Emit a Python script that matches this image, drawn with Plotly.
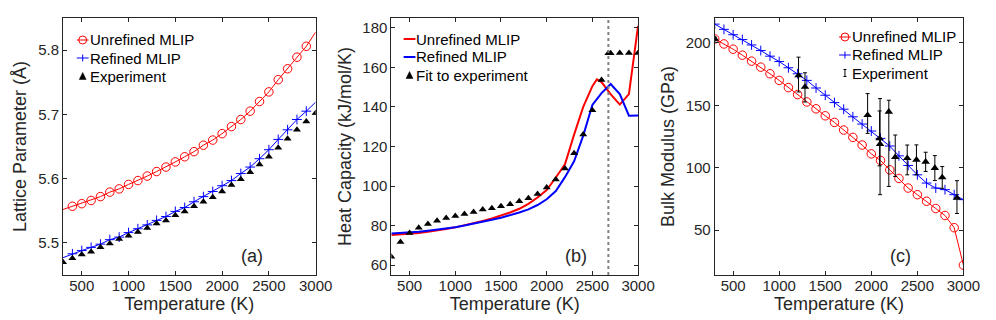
#!/usr/bin/env python3

#  Plotly Libraries
import plotly.graph_objects as go
from plotly.subplots import make_subplots

#  ---- panel (a) : lattice parameter ----
temps_a = [300, 400, 500, 600, 700, 800, 900, 1000, 1100, 1200, 1300, 1400, 1500, 1600,
           1700, 1800, 1900, 2000, 2100, 2200, 2300, 2400, 2500, 2600, 2700, 2800, 2900, 3000]

lattice_unrefined = [5.552, 5.557, 5.561, 5.566, 5.572, 5.579, 5.584, 5.591, 5.597, 5.604,
                     5.611, 5.618, 5.626, 5.634, 5.642, 5.652, 5.660, 5.670, 5.681, 5.692,
                     5.705, 5.720, 5.735, 5.754, 5.771, 5.789, 5.806, 5.828]
lattice_refined = [5.477, 5.483, 5.488, 5.493, 5.498, 5.505, 5.509, 5.516, 5.522, 5.528,
                   5.535, 5.541, 5.549, 5.555, 5.564, 5.572, 5.580, 5.589, 5.597, 5.608,
                   5.618, 5.631, 5.645, 5.661, 5.676, 5.692, 5.705, 5.719]
lattice_expt = [5.470, 5.476, 5.482, 5.486, 5.493, 5.499, 5.506, 5.511, 5.517, 5.523,
                5.530, 5.535, 5.543, 5.549, 5.557, 5.564, 5.571, 5.580, 5.590, 5.599,
                5.610, 5.622, 5.634, 5.648, 5.662, 5.676, 5.689, 5.702]

#  ---- panel (b) : heat capacity ----
temps_b_unref = [300, 400, 500, 600, 700, 800, 900, 1000, 1100, 1200, 1300, 1400, 1500, 1600,
                 1700, 1800, 1900, 2000, 2100, 2200, 2300, 2400, 2500, 2550, 2600, 2700, 2800,
                 2900, 3000]
cp_unrefined = [75.2, 75.5, 75.8, 76.3, 76.9, 77.5, 78.3, 79.1, 80.1, 81.1, 82.3, 83.6, 85.0,
                86.6, 88.5, 91.0, 94.2, 98.0, 104.3, 111.0, 126.0, 140.0, 150.5, 154.0, 152.6,
                146.5, 141.2, 146.5, 181.0]

temps_b_ref = [300, 400, 500, 600, 700, 800, 900, 1000, 1100, 1200, 1300, 1400, 1500, 1600,
               1700, 1800, 1900, 2000, 2100, 2200, 2300, 2400, 2500, 2600, 2700, 2800, 2900, 3000]
cp_refined = [76.0, 76.2, 76.5, 76.9, 77.4, 77.9, 78.5, 79.2, 80.0, 80.9, 81.9, 82.9, 84.0,
              85.2, 86.6, 88.2, 90.4, 93.3, 97.5, 104.5, 112.5, 125.5, 141.0, 147.0, 151.6,
              146.5, 135.6, 135.7]

temps_b_fit = [300, 400, 500, 600, 700, 800, 900, 1000, 1100, 1200, 1300, 1400, 1500, 1600,
               1700, 1800, 1900, 2000, 2100, 2200, 2300, 2400, 2500, 2600, 2675, 2700, 2800,
               2900, 3000]
cp_fit = [64.2, 71.7, 76.2, 78.9, 80.8, 82.4, 83.8, 84.9, 85.9, 86.9, 88.1, 88.8, 89.8, 90.8,
          92.3, 93.8, 96.0, 99.2, 103.3, 108.9, 116.6, 126.1, 138.3, 153.7, 167.2, 167.2,
          167.3, 167.3, 167.3]

melt_temp = 2675

#  ---- panel (c) : bulk modulus ----
temps_c = temps_a
bulk_unrefined = [203.2, 199.2, 195.0, 190.2, 185.4, 180.6, 175.3, 170.0, 164.2, 158.6,
                  152.7, 147.2, 141.6, 136.3, 130.2, 124.3, 118.2, 111.1, 105.8, 98.3,
                  91.4, 83.7, 78.4, 73.1, 67.3, 61.7, 51.9, 21.9]
bulk_refined = [215.1, 210.9, 206.6, 202.7, 198.4, 193.9, 189.4, 185.1, 180.1, 175.3,
                170.0, 163.9, 158.1, 152.2, 146.9, 140.8, 135.0, 129.4, 123.5, 117.4,
                109.5, 101.8, 94.3, 87.7, 83.7, 82.4, 78.4, 74.4]

temps_c_expt = [300, 1210, 1280, 1960, 2090, 2095, 2190, 2260, 2390, 2490, 2590, 2690, 2770, 2930]
bulk_expt = [203.2, 174.0, 164.7, 142.1, 123.5, 119.0, 144.8, 108.4, 107.6, 106.3, 104.7,
             99.7, 92.2, 75.8]
bulk_err_plus = [1.5, 14.6, 11.4, 17.3, 22.0, 36.4, 9.3, 17.8, 10.6, 12.0, 7.7, 10.0, 8.7, 13.8]
bulk_err_minus = [1.5, 13.3, 12.0, 14.6, 22.0, 40.6, 59.8, 15.4, 13.3, 12.0, 7.7, 10.0, 8.7, 12.5]

#  legend labels for each panel
legend_a = ['Unrefined MLIP', 'Refined MLIP', 'Experiment']
legend_b = ['Unrefined MLIP', 'Refined MLIP', 'Fit to experiment']
legend_c = ['Unrefined MLIP', 'Refined MLIP', 'Experiment']

W, H = 996, 320
FONT = 'Liberation Sans, Arial, Helvetica, sans-serif'
INK = '#262626'
RED = '#ff0000'
BLUE = '#0000ff'

#  pixel boxes of the three axes (left, right), shared top/bottom
x_boxes = [(56, 313), (390, 641), (719, 972)]
y_box = (10, 267)


def px_x(p):
    return p / W


def px_y(p):
    return 1 - p / H


fig = make_subplots(rows=1, cols=3)

#  ---------------- (a) ----------------
fig.add_trace(go.Scatter(x=temps_a, y=lattice_unrefined, mode='lines',
                         line=dict(color=RED, width=1), hoverinfo='skip'), row=1, col=1)
fig.add_trace(go.Scatter(x=temps_a[1:-1], y=lattice_unrefined[1:-1], mode='markers',
                         marker=dict(symbol='circle-open', size=8.5, color=RED,
                                     line=dict(width=1, color=RED)),
                         name=legend_a[0]), row=1, col=1)
fig.add_trace(go.Scatter(x=temps_a, y=lattice_refined, mode='lines',
                         line=dict(color=BLUE, width=1), hoverinfo='skip'), row=1, col=1)
fig.add_trace(go.Scatter(x=temps_a[1:-1], y=lattice_refined[1:-1], mode='markers',
                         marker=dict(symbol='cross-thin-open', size=7, color=BLUE,
                                     line=dict(width=1, color=BLUE)),
                         name=legend_a[1]), row=1, col=1)
fig.add_trace(go.Scatter(x=temps_a, y=lattice_expt, mode='markers',
                         marker=dict(symbol='triangle-up', size=7, color='black'),
                         name=legend_a[2]), row=1, col=1)

#  ---------------- (b) ----------------
fig.add_trace(go.Scatter(x=temps_b_unref, y=cp_unrefined, mode='lines',
                         line=dict(color=RED, width=2), name=legend_b[0]), row=1, col=2)
fig.add_trace(go.Scatter(x=temps_b_ref, y=cp_refined, mode='lines',
                         line=dict(color=BLUE, width=2), name=legend_b[1]), row=1, col=2)
fig.add_trace(go.Scatter(x=temps_b_fit, y=cp_fit, mode='markers',
                         marker=dict(symbol='triangle-up', size=7, color='black'),
                         name=legend_b[2]), row=1, col=2)
fig.add_vline(x=melt_temp, line=dict(color='#808080', width=2, dash='dot'), row=1, col=2)

#  ---------------- (c) ----------------
fig.add_trace(go.Scatter(x=temps_c, y=bulk_unrefined, mode='lines+markers',
                         line=dict(color=RED, width=1),
                         marker=dict(symbol='circle-open', size=8.5, color=RED,
                                     line=dict(width=1, color=RED)),
                         name=legend_c[0]), row=1, col=3)
fig.add_trace(go.Scatter(x=temps_c, y=bulk_refined, mode='lines+markers',
                         line=dict(color=BLUE, width=1),
                         marker=dict(symbol='cross-thin-open', size=7, color=BLUE,
                                     line=dict(width=1, color=BLUE)),
                         name=legend_c[1]), row=1, col=3)
fig.add_trace(go.Scatter(x=temps_c_expt, y=bulk_expt, mode='markers',
                         marker=dict(symbol='triangle-up', size=7.5, color='black'),
                         error_y=dict(type='data', array=bulk_err_plus,
                                      arrayminus=bulk_err_minus, color='black',
                                      thickness=1, width=2),
                         name=legend_c[2]), row=1, col=3)

#  ---------------- axes ----------------
axis_common = dict(showline=True, linecolor=INK, linewidth=1, mirror='ticks',
                   ticks='inside', ticklen=4, tickwidth=1, tickcolor=INK,
                   showgrid=False, zeroline=False,
                   tickfont=dict(family=FONT, size=15, color=INK),
                   title_font=dict(family=FONT, size=18, color=INK))

y_ranges = [[5.45, 5.85], [55, 185], [14, 220]]
y_ticks = [[5.5, 5.6, 5.7, 5.8], [60, 80, 100, 120, 140, 160, 180], [50, 100, 150, 200]]
y_titles = ['Lattice Parameter (Å)', 'Heat Capacity (kJ/mol/K)', 'Bulk Modulus (GPa)']
x_ticks = [500, 1000, 1500, 2000, 2500, 3000]

for i in range(3):
    xl, xr = x_boxes[i]
    fig.update_xaxes(axis_common, range=[300, 3000], tickvals=x_ticks,
                     domain=[px_x(xl), px_x(xr)], title_text='Temperature (K)',
                     title_standoff=2, ticklabelstandoff=-3, row=1, col=i + 1)
    fig.update_yaxes(axis_common, range=y_ranges[i], tickvals=y_ticks[i],
                     domain=[px_y(y_box[1]), px_y(y_box[0])], title_text=y_titles[i],
                     title_standoff=6, row=1, col=i + 1)

#  panel labels
for i, lab in enumerate(['(a)', '(b)', '(c)']):
    xa = 'x' if i == 0 else 'x%d' % (i + 1)
    ya = 'y' if i == 0 else 'y%d' % (i + 1)
    fig.add_annotation(text=lab, xref=xa + ' domain', yref=ya + ' domain',
                       x=0.747, y=0.074, xanchor='center', yanchor='middle',
                       showarrow=False,
                       font=dict(family=FONT, size=18, color=INK))


#  ---------------- legends (compact, MATLAB style) ----------------
def legend_glyph(cx, cy, kind):
    half = 6
    if kind in ('circle', 'plus', 'line_red', 'line_blue'):
        col = RED if kind in ('circle', 'line_red') else BLUE
        fig.add_shape(type='line', xref='paper', yref='paper',
                      x0=px_x(cx - half), x1=px_x(cx + half), y0=px_y(cy), y1=px_y(cy),
                      line=dict(color=col, width=2 if kind.startswith('line') else 1))
    if kind == 'circle':
        r = 4
        fig.add_shape(type='circle', xref='paper', yref='paper',
                      x0=px_x(cx - r), x1=px_x(cx + r), y0=px_y(cy + r), y1=px_y(cy - r),
                      line=dict(color=RED, width=1))
    elif kind == 'plus':
        r = 3.5
        fig.add_shape(type='line', xref='paper', yref='paper',
                      x0=px_x(cx), x1=px_x(cx), y0=px_y(cy - r), y1=px_y(cy + r),
                      line=dict(color=BLUE, width=1))
    elif kind == 'triangle':
        a, b = 3.5, 3.5
        path = 'M %f %f L %f %f L %f %f Z' % (px_x(cx - a), px_y(cy + b),
                                             px_x(cx + a), px_y(cy + b),
                                             px_x(cx), px_y(cy - b))
        fig.add_shape(type='path', xref='paper', yref='paper', path=path,
                      fillcolor='black', line=dict(color='black', width=0.5))
    elif kind == 'errbar':
        r, c = 3.5, 1.5
        fig.add_shape(type='line', xref='paper', yref='paper',
                      x0=px_x(cx), x1=px_x(cx), y0=px_y(cy - r), y1=px_y(cy + r),
                      line=dict(color='black', width=1))
        for yy in (cy - r, cy + r):
            fig.add_shape(type='line', xref='paper', yref='paper',
                          x0=px_x(cx - c), x1=px_x(cx + c), y0=px_y(yy), y1=px_y(yy),
                          line=dict(color='black', width=1))


def legend_block(cx, rows, labels, kinds):
    for cy, lab, kind in zip(rows, labels, kinds):
        legend_glyph(cx, cy, kind)
        fig.add_annotation(text=lab, xref='paper', yref='paper',
                           x=px_x(cx + 6), y=px_y(cy), xanchor='left', yanchor='middle',
                           showarrow=False, borderpad=0,
                           font=dict(family=FONT, size=15, color='black'))


legend_block(76, [32, 50, 68], legend_a, ['circle', 'plus', 'triangle'])
legend_block(408.5, [31, 49, 67], legend_b, ['line_red', 'line_blue', 'triangle'])
legend_block(851.5, [29, 47, 65], legend_c, ['circle', 'plus', 'errbar'])

fig.update_layout(
    width=W, height=H,
    margin=dict(l=0, r=0, t=0, b=0),
    plot_bgcolor='white', paper_bgcolor='white',
    showlegend=False,
)

fig.write_html("out.html")
